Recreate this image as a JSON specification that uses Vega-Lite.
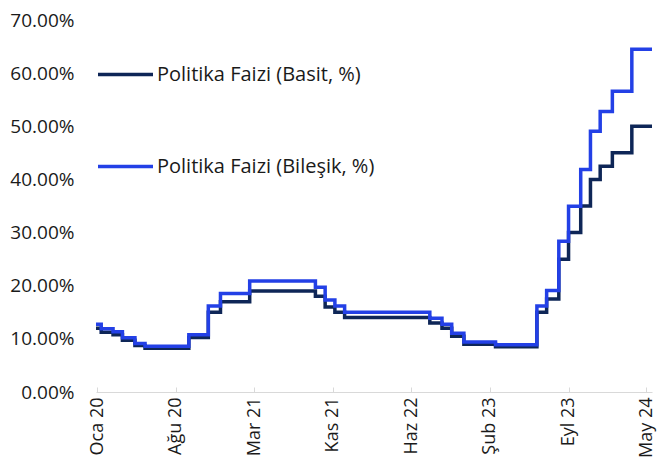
{
  "$schema": "https://vega.github.io/schema/vega-lite/v6.json",
  "width": 556,
  "height": 372,
  "autosize": {"type": "none"},
  "padding": {"left": 96, "top": 20, "right": 5, "bottom": 82},
  "background": "white",
  "config": {
    "view": {"stroke": null},
    "font": "Open Sans",
    "axis": {"labelFont": "Open Sans", "labelColor": "#1a1a1a", "labelFontSize": 19},
    "legend": {"labelFont": "Open Sans"}
  },
  "data": {
    "values": [
      {"date": "2020-01-01", "seri": "Politika Faizi (Basit, %)", "v": 0.12},
      {"date": "2020-01-16", "seri": "Politika Faizi (Basit, %)", "v": 0.1125},
      {"date": "2020-02-19", "seri": "Politika Faizi (Basit, %)", "v": 0.1075},
      {"date": "2020-03-17", "seri": "Politika Faizi (Basit, %)", "v": 0.0975},
      {"date": "2020-04-22", "seri": "Politika Faizi (Basit, %)", "v": 0.0875},
      {"date": "2020-05-21", "seri": "Politika Faizi (Basit, %)", "v": 0.0825},
      {"date": "2020-09-24", "seri": "Politika Faizi (Basit, %)", "v": 0.1025},
      {"date": "2020-11-19", "seri": "Politika Faizi (Basit, %)", "v": 0.15},
      {"date": "2020-12-24", "seri": "Politika Faizi (Basit, %)", "v": 0.17},
      {"date": "2021-03-18", "seri": "Politika Faizi (Basit, %)", "v": 0.19},
      {"date": "2021-09-23", "seri": "Politika Faizi (Basit, %)", "v": 0.18},
      {"date": "2021-10-21", "seri": "Politika Faizi (Basit, %)", "v": 0.16},
      {"date": "2021-11-18", "seri": "Politika Faizi (Basit, %)", "v": 0.15},
      {"date": "2021-12-16", "seri": "Politika Faizi (Basit, %)", "v": 0.14},
      {"date": "2022-08-18", "seri": "Politika Faizi (Basit, %)", "v": 0.13},
      {"date": "2022-09-22", "seri": "Politika Faizi (Basit, %)", "v": 0.12},
      {"date": "2022-10-20", "seri": "Politika Faizi (Basit, %)", "v": 0.105},
      {"date": "2022-11-24", "seri": "Politika Faizi (Basit, %)", "v": 0.09},
      {"date": "2023-02-23", "seri": "Politika Faizi (Basit, %)", "v": 0.085},
      {"date": "2023-06-22", "seri": "Politika Faizi (Basit, %)", "v": 0.15},
      {"date": "2023-07-20", "seri": "Politika Faizi (Basit, %)", "v": 0.175},
      {"date": "2023-08-24", "seri": "Politika Faizi (Basit, %)", "v": 0.25},
      {"date": "2023-09-21", "seri": "Politika Faizi (Basit, %)", "v": 0.30},
      {"date": "2023-10-26", "seri": "Politika Faizi (Basit, %)", "v": 0.35},
      {"date": "2023-11-23", "seri": "Politika Faizi (Basit, %)", "v": 0.40},
      {"date": "2023-12-21", "seri": "Politika Faizi (Basit, %)", "v": 0.425},
      {"date": "2024-01-25", "seri": "Politika Faizi (Basit, %)", "v": 0.45},
      {"date": "2024-03-21", "seri": "Politika Faizi (Basit, %)", "v": 0.50},
      {"date": "2024-05-18", "seri": "Politika Faizi (Basit, %)", "v": 0.50},
      {"date": "2020-01-01", "seri": "Politika Faizi (Bileşik, %)", "v": 0.1273},
      {"date": "2020-01-16", "seri": "Politika Faizi (Bileşik, %)", "v": 0.1190},
      {"date": "2020-02-19", "seri": "Politika Faizi (Bileşik, %)", "v": 0.1134},
      {"date": "2020-03-17", "seri": "Politika Faizi (Bileşik, %)", "v": 0.1023},
      {"date": "2020-04-22", "seri": "Politika Faizi (Bileşik, %)", "v": 0.0914},
      {"date": "2020-05-21", "seri": "Politika Faizi (Bileşik, %)", "v": 0.0860},
      {"date": "2020-09-24", "seri": "Politika Faizi (Bileşik, %)", "v": 0.1078},
      {"date": "2020-11-19", "seri": "Politika Faizi (Bileşik, %)", "v": 0.1618},
      {"date": "2020-12-24", "seri": "Politika Faizi (Bileşik, %)", "v": 0.1852},
      {"date": "2021-03-18", "seri": "Politika Faizi (Bileşik, %)", "v": 0.2090},
      {"date": "2021-09-23", "seri": "Politika Faizi (Bileşik, %)", "v": 0.1970},
      {"date": "2021-10-21", "seri": "Politika Faizi (Bileşik, %)", "v": 0.1733},
      {"date": "2021-11-18", "seri": "Politika Faizi (Bileşik, %)", "v": 0.1618},
      {"date": "2021-12-16", "seri": "Politika Faizi (Bileşik, %)", "v": 0.1502},
      {"date": "2022-08-18", "seri": "Politika Faizi (Bileşik, %)", "v": 0.1387},
      {"date": "2022-09-22", "seri": "Politika Faizi (Bileşik, %)", "v": 0.1273},
      {"date": "2022-10-20", "seri": "Politika Faizi (Bileşik, %)", "v": 0.1106},
      {"date": "2022-11-24", "seri": "Politika Faizi (Bileşik, %)", "v": 0.0941},
      {"date": "2023-02-23", "seri": "Politika Faizi (Bileşik, %)", "v": 0.0887},
      {"date": "2023-06-22", "seri": "Politika Faizi (Bileşik, %)", "v": 0.1618},
      {"date": "2023-07-20", "seri": "Politika Faizi (Bileşik, %)", "v": 0.1911},
      {"date": "2023-08-24", "seri": "Politika Faizi (Bileşik, %)", "v": 0.2836},
      {"date": "2023-09-21", "seri": "Politika Faizi (Bileşik, %)", "v": 0.3497},
      {"date": "2023-10-26", "seri": "Politika Faizi (Bileşik, %)", "v": 0.4188},
      {"date": "2023-11-23", "seri": "Politika Faizi (Bileşik, %)", "v": 0.4907},
      {"date": "2023-12-21", "seri": "Politika Faizi (Bileşik, %)", "v": 0.5277},
      {"date": "2024-01-25", "seri": "Politika Faizi (Bileşik, %)", "v": 0.5657},
      {"date": "2024-03-21", "seri": "Politika Faizi (Bileşik, %)", "v": 0.6448},
      {"date": "2024-05-18", "seri": "Politika Faizi (Bileşik, %)", "v": 0.6448}
    ]
  },
  "mark": {"type": "line", "interpolate": "step-after", "strokeWidth": 3.5, "clip": false},
  "encoding": {
    "x": {
      "field": "date",
      "type": "temporal",
      "scale": {"domain": [{"year": 2020, "month": 1, "date": 1}, {"year": 2024, "month": 5, "date": 18}]},
      "axis": {
        "title": null,
        "grid": false,
        "domainColor": "#d9d9d9",
        "domainWidth": 1,
        "tickColor": "#d9d9d9",
        "tickSize": -5,
        "labelAngle": 270,
        "labelPadding": 10,
        "labelFontSize": 18,
        "labelOverlap": false,
        "values": [
          {"year": 2020, "month": 1, "date": 4},
          {"year": 2020, "month": 8, "date": 17},
          {"year": 2021, "month": 3, "date": 31},
          {"year": 2021, "month": 11, "date": 12},
          {"year": 2022, "month": 6, "date": 26},
          {"year": 2023, "month": 2, "date": 7},
          {"year": 2023, "month": 9, "date": 21},
          {"year": 2024, "month": 5, "date": 2}
        ],
        "labelExpr": "['Oca','Şub','Mar','Nis','May','Haz','Tem','Ağu','Eyl','Eki','Kas','Ara'][month(datum.value)] + ' ' + timeFormat(datum.value, '%y')"
      }
    },
    "y": {
      "field": "v",
      "type": "quantitative",
      "scale": {"domain": [0, 0.7], "nice": false},
      "axis": {
        "title": null,
        "grid": false,
        "domain": false,
        "ticks": false,
        "format": ".2%",
        "values": [0, 0.1, 0.2, 0.3, 0.4, 0.5, 0.6, 0.7],
        "labelPadding": 22
      }
    },
    "color": {
      "field": "seri",
      "type": "nominal",
      "scale": {
        "domain": ["Politika Faizi (Basit, %)", "Politika Faizi (Bileşik, %)"],
        "range": ["#0E2657", "#2340E6"]
      },
      "legend": {
        "title": null,
        "orient": "none",
        "legendX": 0,
        "legendY": 25,
        "direction": "vertical",
        "symbolType": "stroke",
        "symbolSize": 3025,
        "symbolStrokeWidth": 3.5,
        "rowPadding": 52,
        "labelOffset": 2,
        "labelFontSize": 20,
        "labelColor": "#1a1a1a",
        "labelLimit": 0
      }
    }
  }
}
